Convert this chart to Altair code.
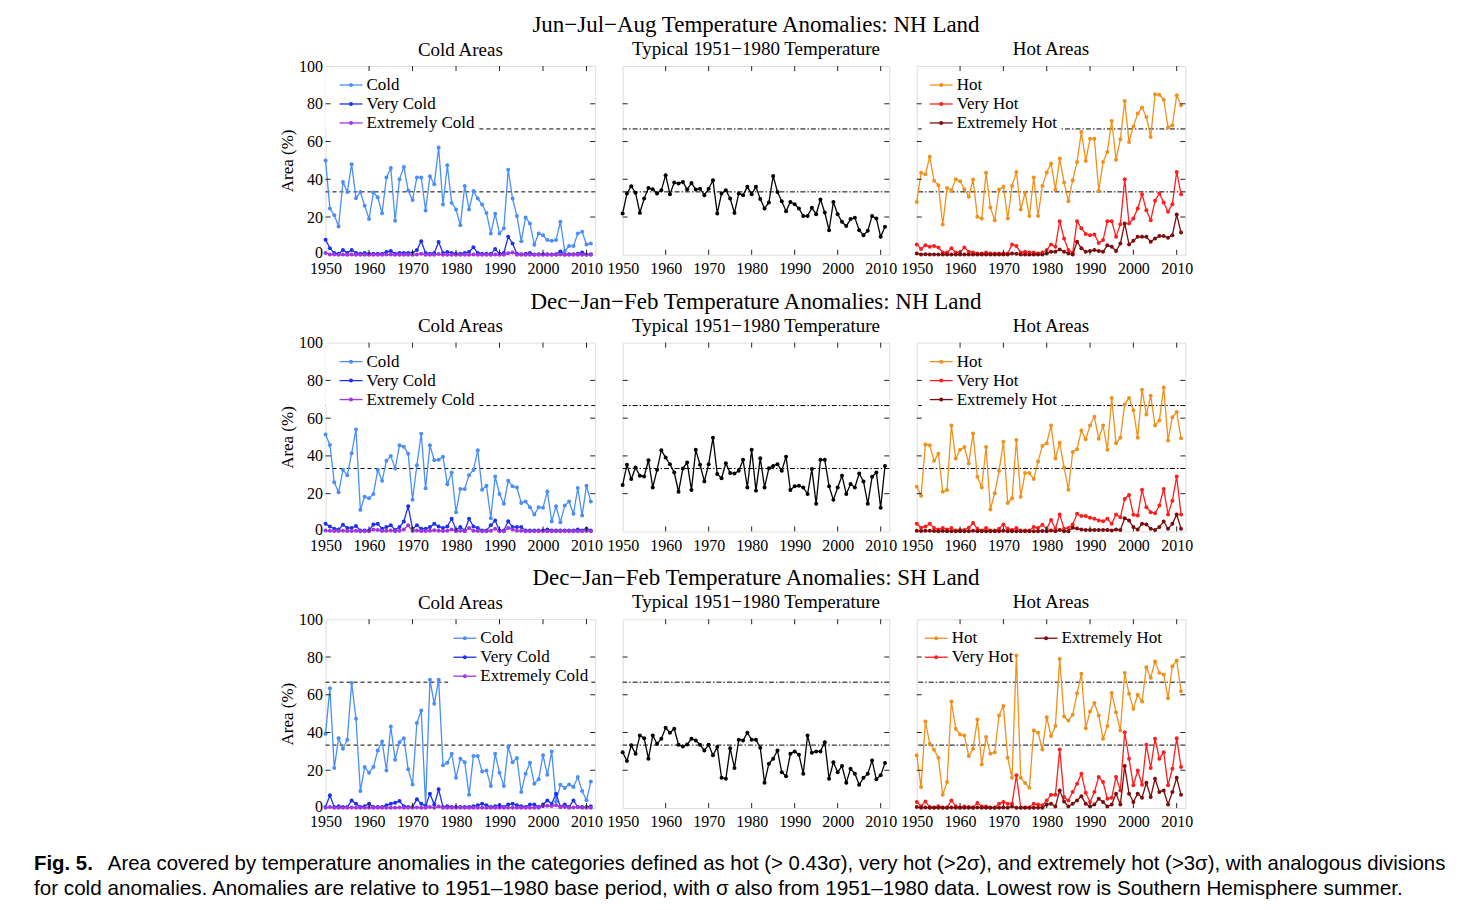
import altair as alt
import pandas as pd

years = list(range(1950, 2012))

# ---------------- Jun-Jul-Aug, NH land ----------------
jja_cold = [50, 24.5, 21, 15, 38.6, 33.3, 48, 30, 33.3, 26,
            19, 33, 30.5, 22, 41, 46, 18, 40, 46.5, 34,
            29, 41, 41, 23.5, 41.6, 37.4, 56.8, 26.6, 47.4, 27.5,
            24, 15.7, 36.5, 24, 33.8, 29.8, 26.6, 22.2, 11.3, 21.7,
            11.3, 14, 45, 29.8, 20.6, 7.2, 19.8, 16.6, 5.3, 11.3,
            10.4, 7.8, 7.4, 7.8, 17.5, 2, 4.6, 4.6, 11.3, 12.2,
            5.5, 6]
jja_vcold = [8, 3.5, 1, 0.5, 2.5, 1, 2.5, 1, 0.5, 1,
             0.5, 0.5, 0.5, 0.5, 1.5, 2, 0.5, 1, 1, 1,
             1, 2.5, 7.2, 1, 0.5, 1, 6.8, 1, 1.5, 1,
             0.5, 0.5, 1, 1.5, 4, 1, 0.5, 0.5, 0.5, 3,
             0.5, 1, 9.5, 6, 0.5, 0.3, 0.5, 1, 0.2, 0.3,
             0.3, 0.3, 0.2, 0.3, 1.8, 0.2, 0.3, 0.3, 0.5, 1.2,
             0.2, 0.3]
jja_xcold = [1, 0.2, 0.1, 0, 0.1, 0, 0.1, 0, 0, 0,
             0, 0, 0, 0, 0.1, 0.1, 0, 0, 0, 0,
             0, 0.1, 0.5, 0, 0, 0, 0.4, 0, 0, 0,
             0, 0, 0, 0, 0.2, 0, 0, 0, 0, 0.1,
             0, 0, 0.8, 1.2, 0, 0, 0, 0, 0, 0,
             0, 0, 0, 0, 0.1, 0, 0, 0, 0, 0,
             0, 0]
jja_typ = [21.9, 32.5, 36.3, 32.8, 22.2, 29.8, 35.4, 34.7, 32.5, 34.2,
           42.2, 32.1, 38.3, 37.7, 38.6, 34.6, 38, 34.6, 35, 31.6,
           35, 39.5, 21.9, 32.5, 34.2, 29.8, 22.2, 32.5, 31.6, 36,
           32.1, 36, 29.5, 24.5, 27.7, 41.8, 33.3, 28.4, 23.1, 28,
           26.8, 24.5, 20.5, 20.5, 24.9, 21.5, 29.3, 22.4, 13, 28,
           21.5, 17.5, 15.2, 18.9, 19.6, 13, 10.4, 12.7, 20.6, 19.2,
           9.5, 14.8]
jja_hot = [28, 43.4, 42.7, 51.9, 39.2, 36.9, 16, 35.4, 34.2, 40,
           39, 34.7, 30.7, 39.9, 20.1, 19.2, 43.4, 25, 18.3, 34.6,
           36, 19.2, 36.5, 43.9, 24, 32.8, 20.6, 40.9, 20.6, 36.5,
           43.6, 48.3, 34.6, 51, 38.3, 28.4, 39.5, 49.2, 65, 49.7,
           61.5, 61.5, 33.9, 49.2, 54.5, 70.9, 50.4, 61.2, 81.5, 59.8,
           68, 74.8, 78, 73, 62.4, 85, 84.8, 82.2, 67.4, 68.6,
           84.5, 79.2]
jja_vhot = [5.5, 3, 5, 4.2, 4.6, 3.9, 1.2, 1.2, 3.4, 1.2,
            1.2, 3.9, 1.6, 1.2, 0.7, 0.7, 1.2, 0.7, 0.7, 0.7,
            0.7, 0.7, 5.5, 4.6, 1.2, 1.6, 1.2, 1.2, 0.7, 1.2,
            2.5, 5.5, 4.2, 17.8, 8.6, 2.5, 1, 17.8, 14, 11,
            10.4, 10.8, 6.3, 7.8, 17.8, 17.8, 9.5, 16.2, 40, 16.6,
            19.2, 24.5, 32.1, 23.6, 18.3, 28.6, 32.5, 27.7, 22.8, 26.8,
            43.9, 32.1]
jja_xhot = [0.7, 0.2, 0.3, 0.2, 0.2, 0.2, 0.1, 0.1, 0.2, 0.1,
            0.1, 0.2, 0.1, 0.1, 0.1, 0.1, 0.1, 0.1, 0.1, 0.1,
            0.1, 0.1, 0.7, 0.5, 0.1, 0.1, 0.1, 0.1, 0.1, 0.1,
            0.7, 1.6, 1.6, 2.8, 1.6, 0.7, 0.2, 6.9, 3.4, 1.6,
            2, 2.5, 2, 1.6, 5, 4.2, 2, 6, 16.6, 5.5,
            7.4, 9.5, 9.5, 9.5, 6.9, 8.6, 9.9, 9.9, 9, 10.4,
            21.3, 11.8]

# ---------------- Dec-Jan-Feb, NH land ----------------
djf_cold = [51.4, 45.8, 26, 20.7, 32.6, 29.8, 41.4, 54, 11.4, 18.4,
            17.5, 19.8, 32.5, 26.8, 37.4, 40, 33.3, 45.6, 44.9, 41.2,
            16.8, 35, 51.8, 22.8, 45.6, 37.7, 37.9, 39.6, 25, 31.2,
            10.2, 22.5, 22.5, 29.8, 32.5, 43, 22.1, 24.2, 7, 29.1,
            19.8, 14.6, 26.8, 23.9, 23.3, 15.1, 15.8, 12.8, 8.9, 12.8,
            12.5, 21.2, 5.3, 13.3, 4.9, 13.7, 15.8, 9.3, 23, 8.4,
            24.2, 15.8]
djf_vcold = [4, 2.6, 1.4, 1, 3.5, 1.8, 1.8, 2.8, 0.5, 0.5,
             0.5, 3.7, 4, 1.4, 2.3, 3.2, 0.8, 2.3, 5.3, 13.3,
             1.4, 3.2, 1.4, 1.4, 2.3, 4, 2.6, 1.8, 2.6, 6.7,
             0.8, 2.3, 0.5, 6.7, 2.6, 1.8, 0.5, 0.5, 3.2, 5.8,
             0.5, 0.5, 5.4, 2.3, 2.3, 2.3, 0.5, 0.5, 0.5, 0.5,
             0.5, 1, 0.5, 0.5, 0.5, 0.5, 0.5, 0.5, 1, 0.5,
             1.4, 0.5]
djf_xcold = [0.5, 0.3, 0.2, 0.2, 0.4, 0.2, 0.2, 0.3, 0.1, 0.1,
             0.1, 1, 0.8, 0.2, 0.3, 0.5, 0.1, 0.4, 1, 3.2,
             0.2, 0.5, 0.2, 0.2, 0.3, 0.6, 0.3, 0.2, 0.3, 1,
             0.1, 0.3, 0.1, 1.8, 0.3, 0.2, 0.1, 0.1, 0.4, 1.4,
             0.1, 0.1, 1.8, 1, 0.3, 0.3, 0.1, 0.1, 0.1, 0.1,
             0.1, 0.1, 0.1, 0.1, 0.1, 0.1, 0.1, 0.1, 0.1, 0.1,
             0.2, 0.1]
djf_typ = [24.6, 35.3, 27.7, 33.9, 29.5, 29.1, 37.7, 23.3, 32.6, 43,
           39.1, 35.6, 31.2, 21, 33.3, 36.5, 21.9, 43.2, 35.3, 26.5,
           35.6, 49.6, 30.4, 28.2, 36.1, 30.9, 30.7, 32.1, 37.9, 23.3,
           43.2, 21.6, 38.8, 23.3, 33.5, 34.7, 35.6, 32.1, 39.6, 21.9,
           23.9, 24.2, 23.3, 19.8, 33, 14.6, 37.9, 37.9, 23.9, 16.7,
           23.3, 29.5, 19.8, 25.1, 23.3, 30.7, 26.5, 14.6, 28.9, 31.2,
           12.5, 34.7]
djf_hot = [23.7, 18.9, 46.1, 45.6, 37.4, 41.2, 21, 21.9, 56.1, 38.6,
           43.2, 44.7, 36, 51.9, 28.9, 23.3, 44.7, 11.6, 20.2, 32.1,
           47.5, 15.1, 17.5, 48.4, 18.4, 30.9, 30.9, 27.7, 37, 45.3,
           46.7, 56.1, 38.6, 47, 33.9, 22.1, 42.1, 43.5, 53.5, 48.8,
           56.1, 60.7, 49.1, 56.1, 43.2, 70.7, 46.7, 49.6, 67.2, 70.7,
           64.2, 49.6, 75.1, 61.9, 71.9, 56.1, 58.8, 76.3, 48.2, 60.5,
           63.2, 49.3]
djf_vhot = [4, 1.9, 2.6, 4, 1.8, 1, 1.8, 1, 1.8, 0.5,
            0.8, 0.8, 1.9, 4.4, 1.4, 0.5, 1.8, 0.5, 0.5, 1.4,
            3.7, 1.4, 0.8, 1.8, 0.5, 0.5, 0.5, 2.3, 1.8, 3.5,
            1.4, 6.1, 1.4, 9, 1.4, 1.8, 3.7, 9.3, 8.1, 8.1,
            7.2, 6.7, 5.8, 5.4, 6.7, 4, 9, 7.5, 17.2, 19.3,
            8.8, 8.4, 22.1, 12.8, 10.2, 9.6, 13.7, 22.5, 9, 16.3,
            29.1, 9]
djf_xhot = [0.3, 0.2, 0.3, 0.3, 0.2, 0.1, 0.2, 0.1, 0.1, 0.1,
            0.1, 0.1, 0.1, 0.3, 0.1, 0.1, 0.1, 0.1, 0.1, 0.1,
            0.3, 0.1, 0.1, 0.1, 0.1, 0.1, 0.1, 0.1, 0.1, 0.2,
            0.1, 0.5, 0.1, 0.8, 0.1, 0.1, 1.9, 1.5, 1, 0.8,
            0.8, 0.8, 0.8, 0.8, 0.8, 0.5, 1, 0.8, 7, 5.8,
            2.3, 1, 4, 3.7, 1.4, 0.8, 2.3, 5.3, 1.4, 4,
            9, 1.4]

# ---------------- Dec-Jan-Feb, SH land ----------------
sh_cold = [39.3, 63.5, 21.2, 37, 31.4, 36.2, 66.3, 47.3, 9, 21.7,
           18.7, 21.7, 30.5, 35.3, 19.9, 43.2, 25.6, 34.9, 37, 20.5,
           12.5, 45, 51.7, 1.4, 67.9, 55.2, 67.9, 22.6, 24, 28.7,
           16, 26.1, 24.3, 7, 27.5, 27.5, 19.4, 19.9, 11.6, 28.7,
           18.7, 11.6, 32.3, 24.3, 26.5, 8.5, 18.2, 24, 12.9, 15.2,
           27.9, 17.6, 30, 3.5, 12.3, 10.6, 12.5, 11.1, 16.4, 9,
           4.1, 14.1]
sh_vcold = [0.5, 6.7, 0.5, 1, 0.5, 0.5, 4, 2.3, 0.5, 1,
            2.3, 0.5, 0.5, 0.5, 1.4, 2.3, 2.8, 3.7, 1, 0.5,
            0.5, 4.6, 2.3, 1, 7.6, 1.8, 9.9, 0.5, 1, 0.5,
            0.5, 0.5, 0.5, 0.5, 1, 1.4, 2.3, 1.4, 0.5, 1,
            1.4, 0.5, 1.8, 2.3, 1.4, 1, 0.5, 1.8, 1.8, 0.5,
            1.8, 4, 2.3, 7.6, 0.5, 1.8, 0.5, 4, 0.5, 0.5,
            0.5, 1]
sh_xcold = [0.1, 0.5, 0.1, 0.1, 0.1, 0.1, 0.3, 0.2, 0.1, 0.1,
            0.1, 0.1, 0.1, 0.1, 0.1, 0.1, 0.2, 0.3, 0.1, 0.1,
            0.1, 0.3, 0.1, 0.1, 0.5, 0.1, 0.8, 0.1, 0.1, 0.1,
            0.1, 0.1, 0.1, 0.1, 0.1, 0.1, 0.1, 0.1, 0.1, 0.1,
            0.1, 0.1, 0.2, 0.2, 0.1, 0.1, 0.1, 0.2, 0.2, 0.1,
            1, 1.2, 1, 1.5, 0.8, 0.5, 0.1, 0.3, 0.5, 0.1,
            0.1, 0.2]
sh_typ = [29.6, 24.9, 33.2, 28.7, 38.4, 37, 26.1, 38.4, 34, 36.7,
          42.5, 39.9, 42, 33.5, 32.6, 33.7, 36.7, 35.8, 33.5, 30.5,
          33.5, 27.9, 32.3, 16, 15.5, 31.7, 21.2, 36.2, 35.8, 39.9,
          36.2, 36.2, 31.9, 13.4, 23.5, 26.1, 30.5, 19, 16.8, 28.7,
          30, 28.2, 18.2, 38.4, 29.3, 30, 30, 34.9, 15.5, 24.3,
          19, 22.2, 13.4, 20.8, 18.2, 12.3, 16, 18.2, 25.2, 15.2,
          17.3, 23.8]
sh_hot = [27.9, 11.1, 45.9, 34, 30.9, 26.6, 7, 13.8, 56.4, 42,
          39, 38.4, 27.5, 31.4, 46.9, 23.1, 37.6, 28.7, 29.6, 49,
          54, 26.6, 16, 80.8, 16, 13.2, 10.8, 41.1, 39.9, 31,
          48.1, 38.1, 43.4, 79, 48.5, 46.4, 49.4, 60.8, 71.1, 42.3,
          51.1, 55.7, 49, 36.7, 43.4, 61, 50.8, 41.1, 71.6, 60.5,
          52.6, 60, 56.4, 74.6, 69, 77.6, 71.6, 70.7, 58.2, 75.1,
          78.1, 61.9]
sh_vhot = [3.2, 1, 3.5, 0.5, 0.3, 1, 0.3, 0.3, 4, 1,
           0.3, 0.8, 0.5, 0.3, 2.6, 0.8, 0.8, 0.3, 0.3, 2.3,
           3.2, 2.3, 2.3, 17.3, 0.3, 0.3, 0.3, 2.3, 1.8, 1.4,
           4, 7, 7, 31, 5.8, 4, 8.5, 12.9, 18.2, 8.1,
           3.2, 8.5, 16.4, 13.8, 4.9, 5.5, 16.4, 9.3, 40.2, 26.1,
           12, 19.9, 12.3, 33.5, 21.2, 36.7, 26.1, 29.6, 12, 20.8,
           37, 21.7]
sh_xhot = [0.5, 0.2, 0.3, 0.1, 0.1, 0.2, 0.1, 0.1, 0.3, 0.1,
           0.1, 0.1, 0.1, 0.1, 0.3, 0.1, 0.1, 0.1, 0.1, 0.2,
           0.3, 0.2, 0.8, 0.1, 0.1, 0.1, 0.1, 0.2, 0.2, 0.2,
           1.8, 2.3, 0.8, 9.3, 3.5, 0.8, 2.3, 4, 6.2, 2.3,
           0.8, 1.8, 4.9, 3.2, 0.8, 1.8, 7.6, 1.8, 22.2, 7.6,
           3.2, 7.6, 5.5, 13.4, 5.8, 15.5, 8.5, 9.3, 1.9, 8.5,
           16, 7]

x_ticks = [1950, 1960, 1970, 1980, 1990, 2000, 2010]
y_ticks = [0, 20, 40, 60, 80, 100]
thresholds = [33.33, 66.67]

row_titles = ["Jun\u2212Jul\u2212Aug Temperature Anomalies: NH Land",
              "Dec\u2212Jan\u2212Feb Temperature Anomalies: NH Land",
              "Dec\u2212Jan\u2212Feb Temperature Anomalies: SH Land"]
panel_titles = ["Cold Areas", "Typical 1951\u22121980 Temperature", "Hot Areas"]
cold_labels = ["Cold", "Very Cold", "Extremely Cold"]
hot_labels = ["Hot", "Very Hot", "Extremely Hot"]

caption_fig = "Fig. 5."
caption_l1 = ("Area covered by temperature anomalies in the categories defined as hot (> 0.43\u03c3), "
              "very hot (>2\u03c3), and extremely hot (>3\u03c3), with analogous divisions")
caption_l2 = ("for cold anomalies. Anomalies are relative to 1951\u20131980 base period, with \u03c3 "
              "also from 1951\u20131980 data. Lowest row is Southern Hemisphere summer.")

SERIF = "Liberation Serif"
CAP = "Liberation Sans"
COLORS = {"Cold": "#4a8ef7", "Very Cold": "#1c32ea", "Extremely Cold": "#a335e0",
          "Hot": "#f0911c", "Very Hot": "#ff1d1d", "Extremely Hot": "#7b0d0d",
          "Typical": "#000000"}

H = 189
WIDTHS = [270, 267, 269]
XS = alt.Scale(domain=[1950, 2012], nice=False, zero=False)
YS = alt.Scale(domain=[0, 100], nice=False, zero=False)


def xenc(field):
    return alt.X(f"{field}:Q", scale=XS, title=None,
                 axis=alt.Axis(values=x_ticks, format="d", labelFont=SERIF, labelFontSize=16,
                               labelColor="black", labelPadding=6, labelFlush=False,
                               labelOverlap=False, ticks=False, domain=False, grid=False))


def yenc(field, show):
    if show:
        return alt.Y(f"{field}:Q", scale=YS, title="Area (%)",
                     axis=alt.Axis(values=y_ticks, labelFont=SERIF, labelFontSize=16,
                                   labelColor="black", labelPadding=3, labelFlush=False,
                                   labelOffset={"condition": {"test": "datum.value == 0", "value": -2},
                                                "value": 0},
                                   ticks=False, domain=False, grid=False,
                                   titleFont=SERIF, titleFontSize=17, titleFontWeight="normal",
                                   titleColor="black", titlePadding=2))
    return alt.Y(f"{field}:Q", scale=YS, axis=None)


def panel(col, series, title, legend=None, box=None):
    W = WIDTHS[col]
    show_y = col == 0
    dash = [4, 3] if col == 0 else [5, 2, 1.5, 2]
    layers = [alt.Chart(pd.DataFrame({"v": thresholds})).mark_rule(
        color="black", strokeWidth=1, strokeDash=dash).encode(y=yenc("v", show_y))]
    for name, vals in series:
        c = COLORS[name]
        df = pd.DataFrame({"year": years, "v": vals})
        layers.append(alt.Chart(df).mark_line(
            color=c, strokeWidth=1.3,
            point=alt.OverlayMarkDef(filled=True, size=16, color=c, opacity=1)
        ).encode(x=xenc("year"), y=yenc("v", show_y)))
    one = pd.DataFrame({"a": [0]})
    if box is not None:
        layers.append(alt.Chart(one).mark_rect(color="white").encode(
            x=alt.value(box[0]), x2=alt.value(box[1]), y=alt.value(box[2]), y2=alt.value(box[3])))
    if legend is not None:
        for name, lx, ly in legend:
            c = COLORS[name]
            lab = pd.DataFrame({"label": [name]})
            layers.append(alt.Chart(lab).mark_rule(color=c, strokeWidth=1.3).encode(
                x=alt.value(lx), x2=alt.value(lx + 23), y=alt.value(ly)))
            layers.append(alt.Chart(lab).mark_point(filled=True, size=16, color=c, opacity=1).encode(
                x=alt.value(lx + 11.5), y=alt.value(ly)))
            layers.append(alt.Chart(lab).mark_text(
                align="left", baseline="middle", font=SERIF, fontSize=17, color="black"
            ).encode(x=alt.value(lx + 27), y=alt.value(ly), text="label:N"))
    xt = pd.DataFrame({"t": x_ticks[1:]})
    yt = pd.DataFrame({"t": y_ticks[1:-1]})
    tk = dict(color="#222", strokeWidth=1)
    layers.append(alt.Chart(xt).mark_rule(**tk).encode(x=xenc("t"), y=alt.value(0), y2=alt.value(5)))
    layers.append(alt.Chart(xt).mark_rule(**tk).encode(x=xenc("t"), y=alt.value(H - 5), y2=alt.value(H)))
    layers.append(alt.Chart(yt).mark_rule(**tk).encode(y=yenc("t", show_y), x=alt.value(0), x2=alt.value(5)))
    layers.append(alt.Chart(yt).mark_rule(**tk).encode(y=yenc("t", show_y), x=alt.value(W - 5), x2=alt.value(W)))
    return alt.layer(*layers).properties(width=W, height=H, title=title)


def side_title(text, offset):
    return alt.TitleParams(text=text, font=SERIF, fontSize=19, fontWeight="normal", color="black",
                           anchor="middle", frame="group", offset=offset)


def mid_title(row_text, text):
    return alt.TitleParams(text=row_text, subtitle=text, font=SERIF, fontSize=23, fontWeight="normal",
                           color="black", subtitleFont=SERIF, subtitleFontSize=19,
                           subtitleColor="black", subtitlePadding=3,
                           anchor="middle", frame="group", offset=6.5)


def cold_leg(right=False):
    if right:
        return [(cold_labels[i], 128, 19 + 19 * i) for i in range(3)]
    return [(cold_labels[i], 14, 19 + 19 * i) for i in range(3)]


def hot_leg():
    return [(hot_labels[i], 13, 19 + 19 * i) for i in range(3)]


data_rows = [
    (jja_cold, jja_vcold, jja_xcold, jja_typ, jja_hot, jja_vhot, jja_xhot),
    (djf_cold, djf_vcold, djf_xcold, djf_typ, djf_hot, djf_vhot, djf_xhot),
    (sh_cold, sh_vcold, sh_xcold, sh_typ, sh_hot, sh_vhot, sh_xhot),
]

cells = []
for r, (c1, c2, c3, t, h1, h2, h3) in enumerate(data_rows):
    cold_series = [("Cold", c1), ("Very Cold", c2), ("Extremely Cold", c3)]
    hot_series = [("Hot", h1), ("Very Hot", h2), ("Extremely Hot", h3)]
    if r < 2:
        p1 = panel(0, cold_series, side_title(panel_titles[0], -1.5), cold_leg(), box=(0, 153, 1, 65))
        p3 = panel(2, hot_series, side_title(panel_titles[2], 6.5), hot_leg(), box=(5, 143, 1, 65))
    else:
        p1 = panel(0, cold_series, side_title(panel_titles[0], -1.5), cold_leg(True), box=(123, 266, 1, 65))
        leg3 = [(hot_labels[0], 8, 19), (hot_labels[1], 8, 38), (hot_labels[2], 118, 19)]
        p3 = panel(2, hot_series, side_title(panel_titles[2], 6.5), leg3)
    p2 = panel(1, [("Typical", t)], mid_title(row_titles[r], panel_titles[1]))
    cells += [p1, p2, p3]

txt = dict(align="left", baseline="middle", font=CAP, color="black")
caption = alt.layer(
    alt.Chart(pd.DataFrame({"t": [caption_fig]})).mark_text(fontWeight="bold", fontSize=20.4, **txt).encode(
        x=alt.value(-292), y=alt.value(-31.5), text="t:N"),
    alt.Chart(pd.DataFrame({"t": [caption_l1]})).mark_text(fontSize=20.4, **txt).encode(
        x=alt.value(-218), y=alt.value(-31.5), text="t:N"),
    alt.Chart(pd.DataFrame({"t": [caption_l2]})).mark_text(fontSize=20.7, **txt).encode(
        x=alt.value(-292), y=alt.value(-6.5), text="t:N"),
).properties(width=1, height=1, view=alt.ViewBackground(stroke="transparent"))

cells.append(caption)

chart = alt.concat(*cells, columns=3, spacing={"row": 88, "column": 27.5},
                   bounds="flush", align="each").properties(
    padding={"left": 25, "top": 4.5, "right": 5, "bottom": 0}
).configure_view(stroke="#222", strokeWidth=1.2).configure(font=SERIF)

chart.save("out.html", embed_options={"renderer": "svg", "actions": False})
